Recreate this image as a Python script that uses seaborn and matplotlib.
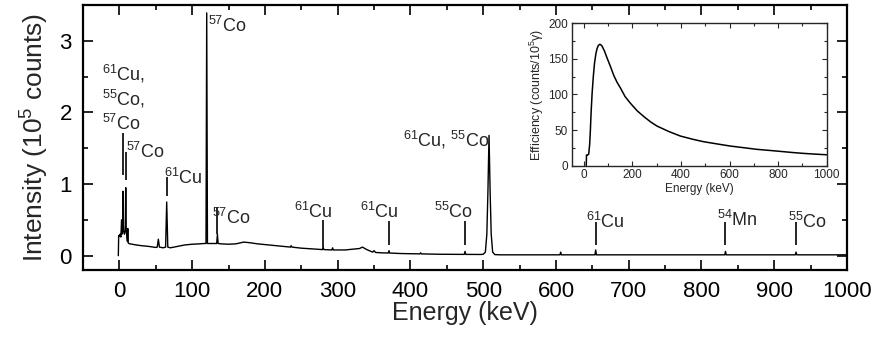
import matplotlib
matplotlib.use("Agg")
import matplotlib.pyplot as plt
import seaborn as sns
import pandas as pd
from matplotlib.ticker import MultipleLocator

# ---------------- data ----------------
energy = [-1.5, -1, 0, 1, 2, 3, 3.5, 4, 4.5, 5, 5.5, 6, 7, 8, 8.7, 9.4, 10, 11, 11.5, 12,
          13, 15, 20, 30, 40, 50, 52, 53.5, 55, 60, 63.5, 65, 66.5, 70, 80, 90, 100, 110,
          116, 119, 120, 121, 130, 133.7, 134.7, 135.7, 140, 150, 160, 171, 180, 190, 200,
          220, 235, 236, 237, 250, 265, 279, 280, 281, 292, 293, 294, 310, 330, 334, 340,
          348, 350, 352, 360, 369.5, 370.5, 371.5, 387, 413, 414, 415, 440, 474, 475, 476,
          497, 500, 503, 505, 506.5, 508, 509.5, 511, 513, 516, 524, 560, 605.5, 606.5,
          607.5, 640, 653.6, 654.6, 655.6, 700, 750, 800, 832, 833, 834, 880, 929, 930, 931,
          960, 1000]
intensity = [0.0, 0.28, 0.27, 0.30, 0.26, 0.50, 0.30, 0.35, 0.40, 0.90, 0.40, 0.33, 0.30,
             0.35, 0.95, 0.35, 0.30, 0.20, 0.38, 0.18, 0.17, 0.165, 0.155, 0.14, 0.13, 0.115,
             0.12, 0.23, 0.12, 0.11, 0.12, 0.75, 0.12, 0.11, 0.13, 0.15, 0.16, 0.165, 0.17,
             0.17, 3.39, 0.17, 0.17, 0.17, 0.30, 0.17, 0.165, 0.16, 0.165, 0.19, 0.18, 0.165,
             0.155, 0.135, 0.12, 0.14, 0.12, 0.105, 0.095, 0.085, 0.12, 0.085, 0.08, 0.11,
             0.08, 0.08, 0.10, 0.12, 0.085, 0.05, 0.07, 0.045, 0.04, 0.037, 0.07, 0.037,
             0.03, 0.025, 0.04, 0.025, 0.02, 0.018, 0.06, 0.018, 0.017, 0.02, 0.05, 0.30,
             0.90, 1.68, 0.90, 0.30, 0.05, 0.015, 0.012, 0.012, 0.012, 0.05, 0.012, 0.012,
             0.012, 0.08, 0.012, 0.012, 0.012, 0.012, 0.012, 0.06, 0.012, 0.012, 0.012, 0.05,
             0.012, 0.012, 0.012]

marker_energy = [5, 8.7, 65, 134.7, 280, 370.5, 475, 654.6, 833, 930]
marker_low = [1.12, 1.05, 0.84, 0.30, 0.12, 0.15, 0.15, 0.15, 0.15, 0.15]
marker_high = [1.71, 1.45, 1.10, 0.68, 0.50, 0.48, 0.48, 0.47, 0.47, 0.47]

label_text = [r"$^{61}$Cu,", r"$^{55}$Co,", r"$^{57}$Co", r"$^{57}$Co", r"$^{61}$Cu",
              r"$^{57}$Co", r"$^{57}$Co", r"$^{61}$Cu", r"$^{61}$Cu", r"$^{55}$Co",
              r"$^{61}$Cu, $^{55}$Co", r"$^{61}$Cu", r"$^{54}$Mn", r"$^{55}$Co"]
label_energy = [-23.4, -23.4, -23.4, 8.7, 61.3, 121.5, 127.8, 240, 330, 432.4, 390, 641, 822, 919]
label_y = [2.45, 2.10, 1.75, 1.36, 1.00, 3.13, 0.44, 0.52, 0.52, 0.52, 1.53, 0.38, 0.41, 0.38]

x_ticks = [0, 100, 200, 300, 400, 500, 600, 700, 800, 900, 1000]
y_ticks = [0, 1, 2, 3]

eff_energy = [10, 11, 14, 20, 24, 27, 30, 34, 39, 44, 50, 55, 60, 66, 71, 75, 85, 96, 110,
              123, 137, 151, 170, 192, 220, 247, 275, 301, 350, 397, 450, 493, 550, 603, 660,
              712, 770, 822, 860, 904, 950, 993, 1000]
eff_value = [0, 15, 15, 16, 30, 50, 75, 101, 125, 144, 158, 165, 169, 170.5, 169.5, 168, 161,
             151, 139, 127, 117, 109, 97, 87.6, 77, 69, 61.5, 55.7, 48, 41.7, 37, 33.7, 30.5,
             27.6, 25.2, 23, 21.3, 19.7, 18.5, 17.3, 16.3, 15.5, 15.3]

# ---------------- style ----------------
sns.set_style("ticks")
plt.rcParams["font.family"] = ["Liberation Sans", "DejaVu Sans"]
plt.rcParams["mathtext.default"] = "regular"

fig = plt.figure(figsize=(8.74, 3.43), dpi=100)
ax = fig.add_axes([0.0950, 0.2128, 0.8741, 0.7726])

spec = pd.DataFrame({"Energy": energy, "Intensity": intensity})
sns.lineplot(data=spec, x="Energy", y="Intensity", ax=ax, color="black", lw=1.0,
             estimator=None, sort=False)
ax.vlines(marker_energy, marker_low, marker_high, color="black", lw=1.2)

for t, xe, yv in zip(label_text, label_energy, label_y):
    ax.text(xe, yv, t, fontsize=13, ha="left", va="baseline")

ax.set_xlim(-50, 1000)
ax.set_ylim(-0.2, 3.5)
ax.set_xticks(x_ticks)
ax.set_yticks(y_ticks)
ax.xaxis.set_minor_locator(MultipleLocator(50))
ax.yaxis.set_minor_locator(MultipleLocator(0.5))
ax.tick_params(which="both", direction="in", top=True, right=True, width=1.2,
               labelsize=16, colors="black")
ax.tick_params(which="major", length=7, pad=8)
ax.tick_params(which="minor", length=3.5)
for s in ax.spines.values():
    s.set_linewidth(1.6)
    s.set_color("black")
ax.set_xlabel("Energy (keV)", fontsize=18, labelpad=-1)
ax.set_ylabel("Intensity (10$^5$ counts)", fontsize=19, labelpad=6)

# ---------------- inset ----------------
axin = fig.add_axes([0.6541, 0.5169, 0.2918, 0.4152])
eff = pd.DataFrame({"Energy": eff_energy, "Efficiency": eff_value})
sns.lineplot(data=eff, x="Energy", y="Efficiency", ax=axin, color="black", lw=1.1,
             estimator=None, sort=False)
axin.set_xlim(-50, 1000)
axin.set_ylim(0, 200)
axin.xaxis.set_major_locator(MultipleLocator(200))
axin.xaxis.set_minor_locator(MultipleLocator(100))
axin.yaxis.set_major_locator(MultipleLocator(50))
axin.yaxis.set_minor_locator(MultipleLocator(25))
axin.tick_params(which="both", direction="in", top=True, right=True, width=0.8,
                 labelsize=8.5, pad=2.5)
axin.tick_params(which="major", length=3.5)
axin.tick_params(which="minor", length=2)
for s in axin.spines.values():
    s.set_linewidth(1.0)
axin.set_xlabel("Energy (keV)", fontsize=8.5, labelpad=1)
axin.set_ylabel("Efficiency (counts/10$^5$γ)", fontsize=9, labelpad=2)

fig.savefig("out.png", dpi=100)
